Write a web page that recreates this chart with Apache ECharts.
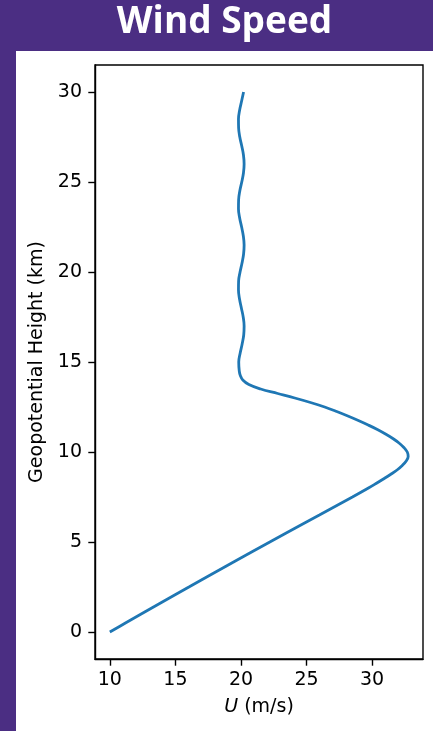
<!DOCTYPE html>
<html>
<head>
<meta charset="utf-8">
<script src="https://cdn.jsdelivr.net/npm/echarts@6/dist/echarts.min.js"></script>
<style>
  html, body { margin: 0; padding: 0; background: #ffffff; }
  #chart { width: 433px; height: 731px; }
</style>
</head>
<body>
<div id="chart"></div>
<script>
// Vertical wind profile: geopotential height (km) vs zonal wind U (m/s)
const heightKm = [
  0, 0.5, 1, 1.5, 2, 2.5, 3, 3.5, 4, 4.5, 5, 5.5, 6, 6.5, 7, 7.5, 8, 8.25, 8.5,
  8.75, 9, 9.25, 9.5, 9.75, 10, 10.25, 10.5, 10.75, 11, 11.25, 11.5, 11.75, 12,
  12.25, 12.5, 12.75, 13, 13.25, 13.5, 13.75, 14, 14.25, 14.5, 15, 15.5, 16,
  16.5, 17, 17.5, 18, 18.5, 19, 19.5, 20, 20.5, 21, 21.5, 22, 22.5, 23, 23.5,
  24, 24.5, 25, 25.5, 26, 26.5, 27, 27.5, 28, 28.5, 29, 29.5, 30
];
const windU = [
  10.0, 11.19, 12.39, 13.6, 14.81, 16.03, 17.25, 18.48, 19.71, 20.95, 22.2,
  23.45, 24.71, 25.98, 27.24, 28.5, 29.72, 30.3, 30.86, 31.4, 31.9, 32.3,
  32.6, 32.75, 32.68, 32.42, 32.05, 31.58, 31.02, 30.4, 29.7, 28.95, 28.15,
  27.3, 26.38, 25.3, 24.1, 22.8, 21.5, 20.6, 20.14, 19.95, 19.87, 19.83,
  19.94, 20.09, 20.21, 20.24, 20.17, 20.03, 19.89, 19.81, 19.82, 19.93, 20.08,
  20.2, 20.24, 20.18, 20.05, 19.9, 19.81, 19.82, 19.91, 20.06, 20.19, 20.24,
  20.19, 20.06, 19.91, 19.82, 19.81, 19.9, 20.05, 20.2
];
const uTicks = [10, 15, 20, 25, 30];
const zTicks = [0, 5, 10, 15, 20, 25, 30];

const purple = '#4b2e83';
const ink = '#000000';
const labelFont = '"DejaVu Sans", sans-serif';

const chart = echarts.init(document.getElementById('chart'), null, { renderer: 'canvas' });

chart.setOption({
  backgroundColor: '#ffffff',
  animation: false,
  graphic: [
    { type: 'rect', z: -10, shape: { x: 0, y: 0, width: 433, height: 51 }, style: { fill: purple } },
    { type: 'rect', z: -10, shape: { x: 0, y: 0, width: 16, height: 731 }, style: { fill: purple } },
    {
      type: 'text', x: 224.5, y: 22.5, z: 10,
      style: {
        text: 'Wind Speed', fill: '#ffffff',
        font: 'bold 37px "Open Sans", sans-serif',
        align: 'center', verticalAlign: 'middle'
      }
    }
  ],
  grid: {
    left: 95, right: 10, top: 65, bottom: 72,
    show: true, borderColor: ink, borderWidth: 1.4, backgroundColor: 'transparent'
  },
  xAxis: {
    type: 'value',
    min: 8.87, max: 33.88,
    name: '{it|U} (m/s)',
    nameLocation: 'middle',
    nameGap: 39,
    nameTextStyle: {
      color: ink, fontFamily: labelFont, fontSize: 19,
      rich: { it: { fontStyle: 'italic', fontFamily: labelFont, fontSize: 19, color: ink } }
    },
    axisLine: { show: true, onZero: false, lineStyle: { color: ink, width: 1.4 } },
    axisTick: { show: true, inside: false, length: 6.7, lineStyle: { color: ink, width: 1.4 }, customValues: uTicks },
    axisLabel: { color: ink, fontFamily: labelFont, fontSize: 19, margin: 12, customValues: uTicks },
    splitLine: { show: false }
  },
  yAxis: {
    type: 'value',
    min: -1.5, max: 31.5,
    name: 'Geopotential Height (km)',
    nameLocation: 'middle',
    nameGap: 48,
    nameTextStyle: { color: ink, fontFamily: labelFont, fontSize: 19 },
    axisLine: { show: true, onZero: false, lineStyle: { color: ink, width: 1.4 } },
    axisTick: { show: true, inside: false, length: 6.7, lineStyle: { color: ink, width: 1.4 }, customValues: zTicks },
    axisLabel: { color: ink, fontFamily: labelFont, fontSize: 19, margin: 13, customValues: zTicks },
    splitLine: { show: false }
  },
  series: [{
    type: 'line',
    data: heightKm.map((z, i) => [windU[i], z]),
    showSymbol: false,
    smooth: 0.4,
    lineStyle: { color: '#1f77b4', width: 2.8 },
    clip: true
  }]
});
</script>
</body>
</html>
